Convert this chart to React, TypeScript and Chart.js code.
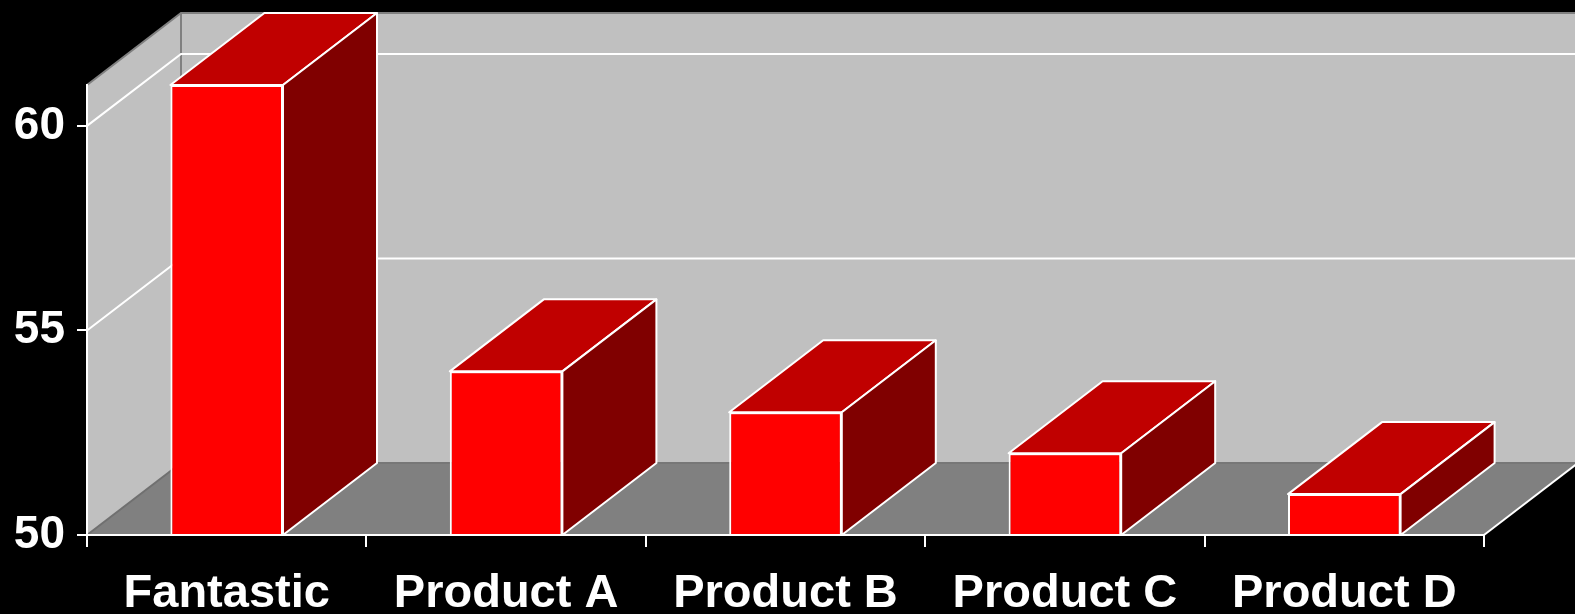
import React, { useEffect, useRef } from "react";
import { Chart, registerables } from "chart.js";

Chart.register(...registerables);

const categories = ["Fantastic", "Product A", "Product B", "Product C", "Product D"];
const values = [61, 54, 53, 52, 51];
const yTicks = [50, 55, 60];
const yMin = 50;
const yMax = 61;

const DX = 94;
const DY = -72;

function poly(ctx: CanvasRenderingContext2D, pts: number[][], fill?: string, stroke?: string, lw = 2) {
  ctx.beginPath();
  ctx.moveTo(pts[0][0], pts[0][1]);
  for (let i = 1; i < pts.length; i++) ctx.lineTo(pts[i][0], pts[i][1]);
  ctx.closePath();
  if (fill) {
    ctx.fillStyle = fill;
    ctx.fill();
  }
  if (stroke) {
    ctx.strokeStyle = stroke;
    ctx.lineWidth = lw;
    ctx.lineJoin = "round";
    ctx.stroke();
  }
}

function line(ctx: CanvasRenderingContext2D, pts: number[][], color: string, lw = 2) {
  ctx.beginPath();
  ctx.moveTo(pts[0][0], pts[0][1]);
  for (let i = 1; i < pts.length; i++) ctx.lineTo(pts[i][0], pts[i][1]);
  ctx.strokeStyle = color;
  ctx.lineWidth = lw;
  ctx.stroke();
}

const threeD = {
  id: "threeD",
  beforeDraw(chart: any) {
    const { ctx, chartArea: a, scales } = chart;
    const ys = scales.y;
    const L = a.left, R = a.right, T = a.top, B = a.bottom;
    ctx.save();
    ctx.fillStyle = "#000000";
    ctx.fillRect(0, 0, chart.width, chart.height);
    // back wall
    ctx.fillStyle = "#C0C0C0";
    ctx.fillRect(L + DX, T + DY, R - L, B - T);
    // left wall
    poly(ctx, [[L, T], [L + DX, T + DY], [L + DX, B + DY], [L, B]], "#C0C0C0");
    // floor
    poly(ctx, [[L, B], [R, B], [R + DX, B + DY], [L + DX, B + DY]], "#808080");
    // wall edges
    line(ctx, [[L, T], [L + DX, T + DY], [R + DX, T + DY]], "#808080", 2);
    line(ctx, [[L + DX, T + DY], [L + DX, B + DY]], "#808080", 2);
    line(ctx, [[L + DX, B + DY], [R + DX, B + DY]], "#777777", 2);
    line(ctx, [[L, B], [L + DX, B + DY]], "#707070", 2);
    // gridlines
    yTicks.forEach((v) => {
      if (v === yMin) return;
      const py = ys.getPixelForValue(v);
      line(ctx, [[L, py], [L + DX, py + DY], [R + DX, py + DY]], "#FFFFFF", 2);
    });
    // floor right edge
    line(ctx, [[R, B], [R + DX, B + DY]], "#FFFFFF", 2);
    ctx.restore();
  },
  afterDatasetsDraw(chart: any) {
    const { ctx, chartArea: a, scales } = chart;
    const meta = chart.getDatasetMeta(0);
    const basePx = scales.y.getPixelForValue(yMin);
    ctx.save();
    meta.data.forEach((bar: any) => {
      const { x, y, width } = bar.getProps(["x", "y", "width"], true);
      const base = Math.min(basePx, a.bottom);
      const x0 = x - width / 2;
      const x1 = x + width / 2;
      // top face
      poly(ctx, [[x0, y], [x1, y], [x1 + DX, y + DY], [x0 + DX, y + DY]], "#C00000", "#FFFFFF", 2);
      // side face
      poly(ctx, [[x1, y], [x1 + DX, y + DY], [x1 + DX, base + DY], [x1, base]], "#800000", "#FFFFFF", 2);
    });
    ctx.restore();
  },
};

export default function App() {
  const ref = useRef<HTMLCanvasElement | null>(null);
  useEffect(() => {
    if (!ref.current) return;
    const chart = new Chart(ref.current, {
      type: "bar",
      data: {
        labels: categories,
        datasets: [
          {
            data: values,
            base: yMin,
            backgroundColor: "#FF0000",
            borderColor: "#FFFFFF",
            borderWidth: 2,
            barPercentage: 1,
            categoryPercentage: 0.403,
          },
        ],
      },
      options: {
        animation: false,
        responsive: true,
        maintainAspectRatio: false,
        layout: { padding: { top: 85, right: 91, left: 0, bottom: 0 } },
        plugins: { legend: { display: false }, tooltip: { enabled: false } },
        scales: {
          x: {
            afterFit: (s: any) => {
              s.height = 79;
            },
            grid: {
              display: true,
              drawOnChartArea: false,
              drawTicks: true,
              tickLength: 12,
              color: "#FFFFFF",
              lineWidth: 2,
              offset: true,
            },
            border: { display: true, color: "#FFFFFF", width: 2 },
            ticks: {
              color: "#FFFFFF",
              padding: 19,
              maxRotation: 0,
              autoSkip: false,
              font: { family: "'Liberation Sans', Arial, sans-serif", size: 47, weight: "bold" },
            },
          },
          y: {
            min: yMin,
            max: yMax,
            afterFit: (s: any) => {
              s.width = 87;
            },
            afterBuildTicks: (s: any) => {
              s.ticks = yTicks.map((v) => ({ value: v }));
            },
            grid: {
              display: true,
              drawOnChartArea: false,
              drawTicks: true,
              tickLength: 10,
              color: "#FFFFFF",
              lineWidth: 2,
            },
            border: { display: true, color: "#FFFFFF", width: 2 },
            ticks: {
              color: "#FFFFFF",
              padding: 12,
              font: { family: "'Liberation Sans', Arial, sans-serif", size: 46, weight: "bold" },
            },
          },
        },
      },
      plugins: [threeD],
    } as any);
    return () => chart.destroy();
  }, []);
  return (
    <div style={{ position: "fixed", left: 0, top: 0, width: 1575, height: 614, background: "#000" }}>
      <canvas ref={ref} />
    </div>
  );
}
